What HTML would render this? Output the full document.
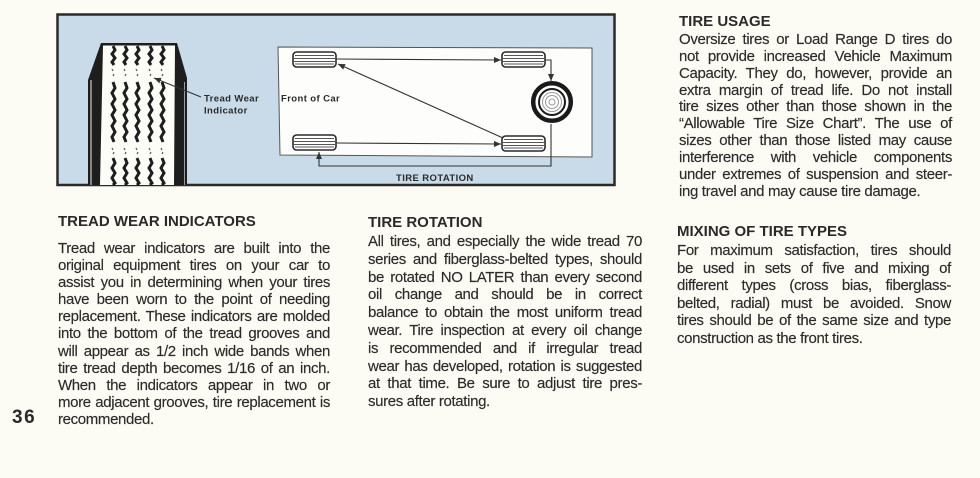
<!DOCTYPE html>
<html>
<head>
<meta charset="utf-8">
<style>
  html,body{margin:0;padding:0;}
  body{width:980px;height:478px;background:#fcfbf4;position:relative;overflow:hidden;
       font-family:"Liberation Sans",Arial,sans-serif;color:#2b2b2b;}
  svg{position:absolute;left:0;top:0;}
  .h{position:absolute;font-weight:bold;font-size:15px;line-height:17px;white-space:nowrap;color:#2a2a2a;}
  .col{position:absolute;font-size:15px;letter-spacing:-0.35px;-webkit-text-stroke:0.15px #2b2b2b;}
  .col div{text-align:justify;text-align-last:justify;white-space:normal;}
  .col div.l{text-align-last:left;}
  .pn{position:absolute;left:12px;top:409px;font-weight:bold;font-size:19px;line-height:18px;letter-spacing:1.5px;color:#2a2a2a;}
</style>
</head>
<body>
<svg width="980" height="200" viewBox="0 0 980 200" xmlns="http://www.w3.org/2000/svg">
  <defs>
    <marker id="a" markerWidth="8" markerHeight="6" refX="7" refY="3" orient="auto" markerUnits="userSpaceOnUse">
      <path d="M0,0 L7,3 L0,6 z" fill="#333"/>
    </marker>
    <g id="gr">
      <polyline points="0,46 2,50 -1,54 2,58 -1,62 1,65" fill="none" stroke="#1e1e1e" stroke-width="3"/>
      <polyline points="0,82 2,88 -1,93 2,99 -1,104 2,110 -1,115 2,121 -1,126 2,132 -1,137 1,142" fill="none" stroke="#1e1e1e" stroke-width="3"/>
      <polyline points="0,158 2,163 -1,168 2,173 -1,178 2,183 0,185" fill="none" stroke="#1e1e1e" stroke-width="3"/>
      <path d="M-1,69 l1,2 M1,74 l-1,2 M-1,148 l1,2 M1,152 l-1,2" stroke="#555" stroke-width="1.2"/>
    </g>
    <g id="tl">
      <rect x="0" y="0" width="43" height="15" rx="3.5" fill="#fff" stroke="#2a2a2a" stroke-width="1.6"/>
      <path d="M2,3.5 H41 M1,6.5 H42 M1,9.5 H42 M2,12 H41" stroke="#555" stroke-width="0.9"/>
    </g>
  </defs>

  <!-- blue panel -->
  <rect x="57.5" y="14.5" width="557" height="170.5" fill="#c9dbe8" stroke="#2a2a2a" stroke-width="2.5"/>

  <!-- tire -->
  <path d="M88,185 L88,80 L101,43 L177,43 L187,78 L187,185 Z" fill="#1e1e1e"/>
  <path d="M103,45.5 L175,45.5 L174,185 L100,185 Z" fill="#fdfdf8"/>
  <line x1="91" y1="80" x2="91" y2="185" stroke="#eee" stroke-width="1"/>
  <line x1="184.5" y1="82" x2="184.5" y2="185" stroke="#bbb" stroke-width="0.8"/>
  <use href="#gr" x="113" y="0"/>
  <use href="#gr" x="125" y="0"/>
  <use href="#gr" x="137" y="0"/>
  <use href="#gr" x="150" y="0"/>
  <use href="#gr" x="162" y="0"/>

  <!-- tread wear indicator leader -->
  <line x1="201" y1="97" x2="154" y2="78" stroke="#333" stroke-width="1.1" marker-end="url(#a)"/>
  <text x="204" y="101.5" font-family="Liberation Sans, Arial, sans-serif" font-weight="bold" font-size="9.5" letter-spacing="0.4" fill="#2a2a2a">Tread Wear</text>
  <text x="204" y="113.5" font-family="Liberation Sans, Arial, sans-serif" font-weight="bold" font-size="9.5" letter-spacing="0.4" fill="#2a2a2a">Indicator</text>

  <!-- car outline -->
  <polygon points="278,47 592,48 592,157 280,155" fill="#fdfdfb" stroke="#555" stroke-width="1"/>
  <text x="281" y="101.5" font-family="Liberation Sans, Arial, sans-serif" font-weight="bold" font-size="9.5" letter-spacing="0.4" fill="#2a2a2a">Front of Car</text>

  <!-- tires -->
  <use href="#tl" x="293" y="52"/>
  <use href="#tl" x="293" y="135"/>
  <use href="#tl" x="502" y="52"/>
  <use href="#tl" x="502" y="136"/>

  <!-- spare -->
  <circle cx="552" cy="102" r="18.8" fill="#fff" stroke="#1a1a1a" stroke-width="4.5"/>
  <circle cx="552" cy="102" r="13" fill="#fff" stroke="#1a1a1a" stroke-width="2"/>
  <circle cx="552" cy="102" r="9.5" fill="none" stroke="#999" stroke-width="1"/>
  <circle cx="552" cy="102" r="6.5" fill="none" stroke="#999" stroke-width="1"/>
  <circle cx="552" cy="102" r="3" fill="none" stroke="#999" stroke-width="1"/>

  <!-- rotation connectors -->
  <g fill="none" stroke="#333" stroke-width="1.1">
    <path d="M336,59 L501,60" marker-end="url(#a)"/>
    <path d="M545,60 L551,60 L551,81" marker-end="url(#a)"/>
    <path d="M551,124 L551,166 L319,166 L319,152" marker-end="url(#a)"/>
    <path d="M503,138 L338,64" marker-end="url(#a)"/>
    <path d="M336,143 L501,144" marker-end="url(#a)"/>
  </g>
  <text x="396" y="181" font-family="Liberation Sans, Arial, sans-serif" font-weight="bold" font-size="9.5" letter-spacing="0.4" fill="#2a2a2a">TIRE ROTATION</text>
</svg>

<!-- Left column -->
<div class="h" style="left:58px;top:213px;">TREAD WEAR INDICATORS</div>
<div class="col" style="left:58px;top:240px;width:272px;line-height:17.1px;">
  <div>Tread wear indicators are built into the</div>
  <div>original equipment tires on your car to</div>
  <div>assist you in determining when your tires</div>
  <div>have been worn to the point of needing</div>
  <div>replacement. These indicators are molded</div>
  <div>into the bottom of the tread grooves and</div>
  <div>will appear as 1/2 inch wide bands when</div>
  <div>tire tread depth becomes 1/16 of an inch.</div>
  <div>When the indicators appear in two or</div>
  <div>more adjacent grooves, tire replacement is</div>
  <div class="l">recommended.</div>
</div>
<div class="pn">36</div>

<!-- Middle column -->
<div class="h" style="left:368px;top:214px;">TIRE ROTATION</div>
<div class="col" style="left:368px;top:233px;width:274px;line-height:17.8px;">
  <div>All tires, and especially the wide tread 70</div>
  <div>series and fiberglass-belted types, should</div>
  <div>be rotated NO LATER than every second</div>
  <div>oil change and should be in correct</div>
  <div>balance to obtain the most uniform tread</div>
  <div>wear. Tire inspection at every oil change</div>
  <div>is recommended and if irregular tread</div>
  <div>wear has developed, rotation is suggested</div>
  <div>at that time. Be sure to adjust tire pres-</div>
  <div class="l">sures after rotating.</div>
</div>

<!-- Right column -->
<div class="h" style="left:679px;top:13px;">TIRE USAGE</div>
<div class="col" style="left:679px;top:32px;width:273px;line-height:16.85px;">
  <div>Oversize tires or Load Range D tires do</div>
  <div>not provide increased Vehicle Maximum</div>
  <div>Capacity. They do, however, provide an</div>
  <div>extra margin of tread life. Do not install</div>
  <div>tire sizes other than those shown in the</div>
  <div>“Allowable Tire Size Chart”. The use of</div>
  <div>sizes other than those listed may cause</div>
  <div>interference with vehicle components</div>
  <div>under extremes of suspension and steer-</div>
  <div class="l">ing travel and may cause tire damage.</div>
</div>

<div class="h" style="left:677px;top:223px;">MIXING OF TIRE TYPES</div>
<div class="col" style="left:677px;top:242px;width:274px;line-height:17.5px;">
  <div>For maximum satisfaction, tires should</div>
  <div>be used in sets of five and mixing of</div>
  <div>different types (cross bias, fiberglass-</div>
  <div>belted, radial) must be avoided. Snow</div>
  <div>tires should be of the same size and type</div>
  <div class="l">construction as the front tires.</div>
</div>
</body>
</html>
